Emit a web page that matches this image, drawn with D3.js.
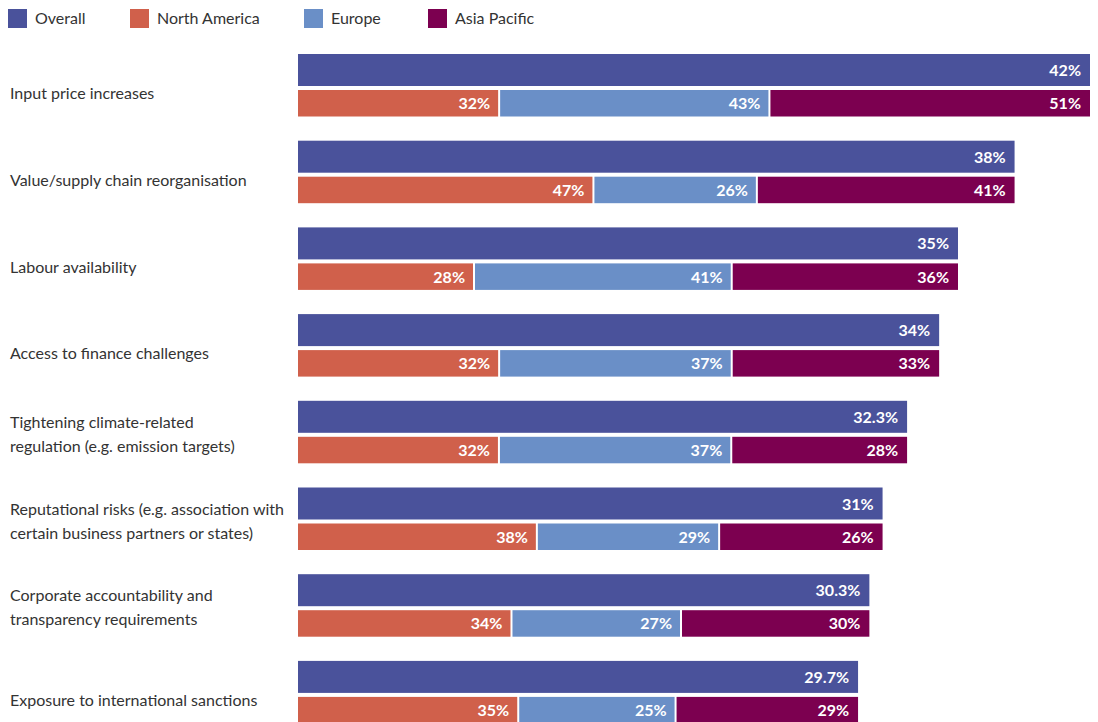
<!DOCTYPE html>
<html>
<head>
<meta charset="utf-8">
<script src="https://cdn.jsdelivr.net/npm/d3@7"></script>
<style>
    body { margin: 0; background: #fff; }
    svg { display: block; }
    text { font-family: Lato, "Open Sans", sans-serif; }
</style>
</head>
<body>
<div id="chart"></div>
<script>
const WIDTH = 1098;
const HEIGHT = 722;

// data
const categories = [
    ["Input price increases"],
    ["Value/supply chain reorganisation"],
    ["Labour availability"],
    ["Access to finance challenges"],
    ["Tightening climate-related", "regulation (e.g. emission targets)"],
    ["Reputational risks (e.g. association with", "certain business partners or states)"],
    ["Corporate accountability and", "transparency requirements"],
    ["Exposure to international sanctions"]
];
const overall = [42, 38, 35, 34, 32.3, 31, 30.3, 29.7];
const overallLabels = ["42%", "38%", "35%", "34%", "32.3%", "31%", "30.3%", "29.7%"];
const northAmerica = [32, 47, 28, 32, 32, 38, 34, 35];
const europe = [43, 26, 41, 37, 37, 29, 27, 25];
const asiaPacific = [51, 41, 36, 33, 28, 26, 30, 29];

const seriesNames = ["Overall", "North America", "Europe", "Asia Pacific"];
const colors = {
    "Overall": "#4a529b",
    "North America": "#d0604b",
    "Europe": "#6a8fc7",
    "Asia Pacific": "#7c0050"
};

const BAR_LEFT = 298;
const OVERALL_H = 32;
const GAP = 4;
const STACK_H = 26.5;

const svg = d3.select("#chart")
    .append("svg")
    .attr("width", WIDTH)
    .attr("height", HEIGHT);

const x = d3.scaleLinear()
    .domain([0, 42])
    .range([BAR_LEFT, 1090]);

const y = d3.scaleBand()
    .domain(d3.range(categories.length))
    .range([54, 54 + 86.7 * categories.length])
    .paddingInner(0);

// legend
const legendX = [8, 130, 304, 428];
const legend = svg.append("g").attr("class", "legend");
seriesNames.forEach((name, i) => {
    const g = legend.append("g").attr("transform", "translate(" + legendX[i] + ",9)");
    g.append("rect")
        .attr("width", 19)
        .attr("height", 19)
        .attr("fill", colors[name]);
    g.append("text")
        .attr("x", 27)
        .attr("y", 15)
        .attr("font-size", 16)
        .attr("fill", "#333")
        .text(name);
});

const rows = categories.map((c, i) => ({
    i,
    lines: c,
    overall: overall[i],
    overallLabel: overallLabels[i],
    parts: [
        {name: "North America", value: northAmerica[i]},
        {name: "Europe", value: europe[i]},
        {name: "Asia Pacific", value: asiaPacific[i]}
    ]
}));

const groups = svg.append("g").attr("class", "rows")
    .selectAll("g.row")
    .data(rows)
    .join("g")
    .attr("class", "row")
    .attr("transform", d => "translate(0," + y(d.i) + ")");

// category labels
groups.append("text")
    .attr("class", "cat")
    .attr("font-size", 16)
    .attr("fill", "#333")
    .each(function (d) {
        const t = d3.select(this);
        const mid = (OVERALL_H + GAP + STACK_H) / 2;
        const startY = d.lines.length === 1 ? mid + 14 : mid - 4;
        d.lines.forEach((line, k) => {
            t.append("tspan")
                .attr("x", 10)
                .attr("y", startY + k * 24)
                .text(line);
        });
    });

// overall bar
groups.append("rect")
    .attr("x", x(0))
    .attr("y", 0)
    .attr("width", d => x(d.overall) - x(0))
    .attr("height", OVERALL_H)
    .attr("fill", colors["Overall"]);

groups.append("text")
    .attr("class", "val")
    .attr("x", d => x(d.overall) - 9)
    .attr("y", OVERALL_H / 2 + 6)
    .attr("text-anchor", "end")
    .attr("font-size", 16)
    .attr("font-weight", "bold")
    .attr("fill", "#fff")
    .text(d => d.overallLabel);

// stacked regional bar, scaled to the width of the overall bar
groups.each(function (d) {
    const g = d3.select(this);
    const total = d3.sum(d.parts, p => p.value);
    const sx = d3.scaleLinear()
        .domain([0, total])
        .range([x(0), x(d.overall)]);
    let acc = 0;
    const segs = d.parts.map(p => {
        const s = {name: p.name, value: p.value, x0: acc, x1: acc + p.value};
        acc += p.value;
        return s;
    });
    const last = segs.length - 1;

    g.selectAll("rect.seg")
        .data(segs)
        .join("rect")
        .attr("class", "seg")
        .attr("x", (s, k) => sx(s.x0) + (k === 0 ? 0 : 1))
        .attr("y", OVERALL_H + GAP)
        .attr("width", (s, k) => sx(s.x1) - sx(s.x0) - (k === 0 || k === last ? 1 : 2))
        .attr("height", STACK_H)
        .attr("fill", s => colors[s.name]);

    g.selectAll("text.seglabel")
        .data(segs)
        .join("text")
        .attr("class", "seglabel")
        .attr("x", s => sx(s.x1) - 9)
        .attr("y", OVERALL_H + GAP + STACK_H / 2 + 6)
        .attr("text-anchor", "end")
        .attr("font-size", 16)
        .attr("font-weight", "bold")
        .attr("fill", "#fff")
        .text(s => s.value + "%");
});
</script>
</body>
</html>
